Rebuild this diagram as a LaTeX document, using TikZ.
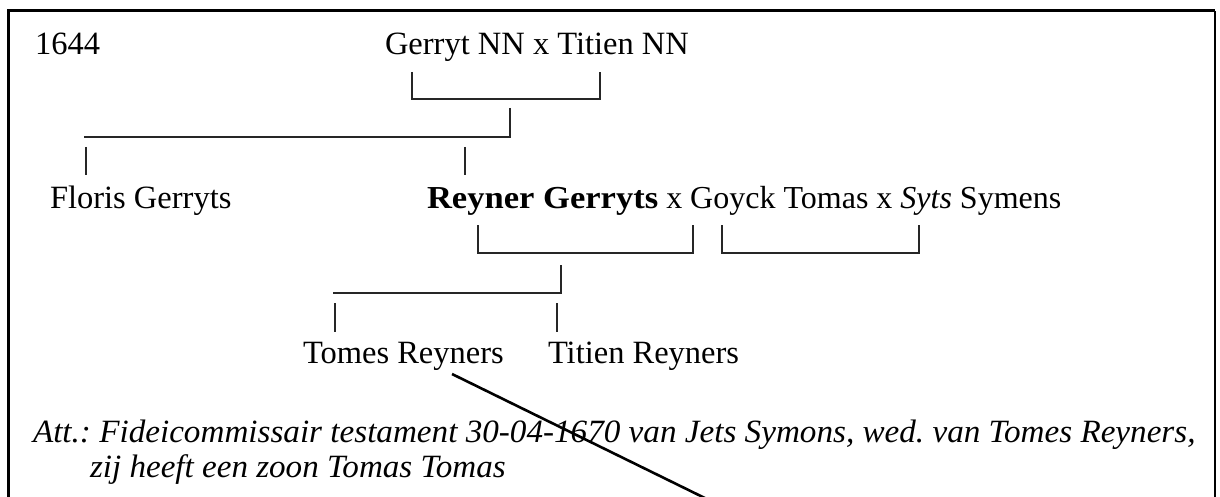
\documentclass[tikz,border=0pt]{standalone}
\usepackage{fontspec}
\usepackage{graphicx}
\setmainfont{Liberation Serif}
\begin{document}
\begin{tikzpicture}[x=1pt,y=-1pt,
  txt/.style={inner sep=0pt,outer sep=0pt,anchor=base west,font=\fontsize{32.5}{38}\selectfont\frenchspacing},
  conn/.style={line width=1.3pt,black!85},
  diag/.style={line width=2.6pt,black}]
\useasboundingbox (0,0) rectangle (1220,497);
\clip (0,0) rectangle (1220,497);
% frame
\draw[line width=3pt] (8.5,600) -- (8.5,11) -- (1215,11);
\draw[line width=1.6pt] (1215,11) -- (1215,600);
% texts
\node[txt] (year) at (35,55) {1644};
\node[txt] (gp) at (385,55) {Gerryt NN x Titien NN};
\node[txt] (floris) at (50,208) {Floris Gerryts};
\node[txt,font=\fontsize{32}{38}\selectfont] (reyner) at (427,208) {\scalebox{1.08}[1]{\textbf{Reyner Gerryts}} x Goyck Tomas x \textit{Syts} Symens};
\node[txt] (tomes) at (303,363) {Tomes Reyners};
\node[txt] (titien) at (548,363) {Titien Reyners};
\node[txt] (att1) at (33,442) {\scalebox{1.02}[1]{\itshape Att.: Fideicommissair testament 30-04-1670 van Jets Symons, wed. van Tomes Reyners,}};
\node[txt] (att2) at (90,477) {\scalebox{1.018}[1]{\itshape zij heeft een zoon Tomas Tomas}};
% coordinates
\coordinate (a1) at (412,72); \coordinate (a2) at (412,99);
\coordinate (a3) at (600,99); \coordinate (a4) at (600,72);
\coordinate (b1) at (510,108); \coordinate (b2) at (510,137); \coordinate (b3) at (84,137);
\coordinate (t1) at (86,147); \coordinate (t2) at (86,175);
\coordinate (t3) at (465,147); \coordinate (t4) at (465,175);
\coordinate (c1) at (478,225); \coordinate (c2) at (478,253);
\coordinate (c3) at (693,253); \coordinate (c4) at (693,225);
\coordinate (d1) at (722,225); \coordinate (d2) at (722,253);
\coordinate (d3) at (919,253); \coordinate (d4) at (919,225);
\coordinate (e1) at (561,265); \coordinate (e2) at (561,293); \coordinate (e3) at (333,293);
\coordinate (f1) at (335,303); \coordinate (f2) at (335,332);
\coordinate (f3) at (557,303); \coordinate (f4) at (557,332);
\coordinate (g1) at (452,374); \coordinate (g2) at (770,530);
% connectors
\draw[conn] (a1) -- (a2) -- (a3) -- (a4);
\draw[conn] (b1) -- (b2) -- (b3);
\draw[conn] (t1) -- (t2);
\draw[conn] (t3) -- (t4);
\draw[conn] (c1) -- (c2) -- (c3) -- (c4);
\draw[conn] (d1) -- (d2) -- (d3) -- (d4);
\draw[conn] (e1) -- (e2) -- (e3);
\draw[conn] (f1) -- (f2);
\draw[conn] (f3) -- (f4);
\draw[diag] (g1) -- (g2);
\end{tikzpicture}
\end{document}
